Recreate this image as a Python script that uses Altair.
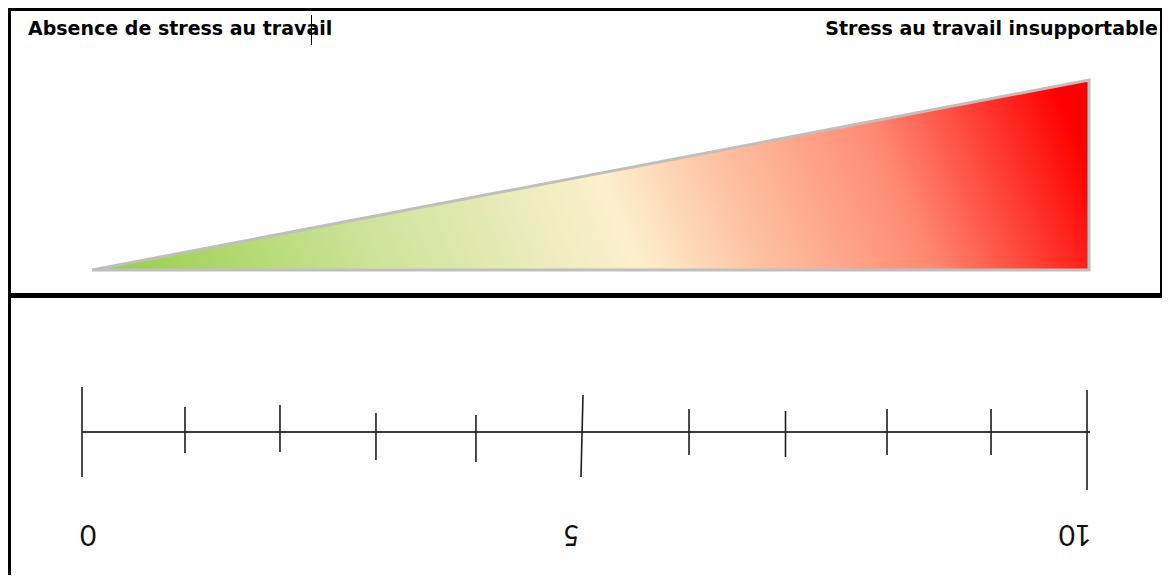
import altair as alt
import pandas as pd

# ---- data ----
# triangle (stress intensity rises from 0 to 10)
tri_x = [0, 10]
tri_y = [0, 10]

# gradient colour stops (offset, colour)
grad_offsets = [0.0, 0.25, 0.51, 0.62, 0.80, 1.0]
grad_colors = ["#9ccf4e", "#cde39a", "#fdf0cf", "#fdc6a6", "#ff8a74", "#ff0000"]

# top labels
label_left = "Absence de stress au travail"
label_right = "Stress au travail insupportable"

# scale (hand drawn): tick positions and extents (above / below the line)
tick_pos_top = [0, 1.025, 1.97, 2.925, 3.92, 4.985, 6.04, 7.0, 8.01, 9.045, 10.0]
tick_pos_bot = [0, 1.025, 1.97, 2.925, 3.92, 4.965, 6.04, 7.0, 8.01, 9.045, 10.0]
tick_up = [45, 25, 27, 19, 17, 37, 23, 21, 23, 23, 42]
tick_down = [-45, -21, -20, -28, -30, -45, -23, -25, -23, -23, -58]

line_start = [0]
line_end = [10.03]

num_labels = ["0", "5", "10"]
num_pos = [0.06, 4.87, 9.88]
num_y = [-101, -101, -101]

# ---- frames ----
tri_df = pd.DataFrame({"x": tri_x, "y": tri_y})
ticks_df = pd.DataFrame({"xt": tick_pos_top, "xb": tick_pos_bot, "up": tick_up, "down": tick_down})
line_df = pd.DataFrame({"x": line_start, "x2": line_end, "yy": [0]})
nums_df = pd.DataFrame({"t": num_labels, "x": num_pos, "y": num_y})
one = pd.DataFrame({"a": [0]})

W = 1151
H = 564
H1 = 287  # height of the framed top box


def lin_domain(p0, p1, v0, v1, length, flip=False):
    """domain so that value v0 sits at pixel p0 and v1 at pixel p1 on a range of `length`."""
    k = (p1 - p0) / (v1 - v0)
    if flip:  # y axis: pixel grows downward
        return [v0 + (length - p0) / k, v0 + (0 - p0) / k]
    return [v0 + (0 - p0) / k, v0 + (length - p0) / k]


xs_top = alt.Scale(domain=lin_domain(81, 1078, 0, 10, W), nice=False, zero=False)
ys_top = alt.Scale(domain=sorted(lin_domain(259, 69, 0, 10, H, flip=True)), nice=False, zero=False)
xs_bot = alt.Scale(domain=lin_domain(71, 1076, 0, 10, W), nice=False, zero=False)
ys_bot = alt.Scale(domain=sorted(lin_domain(421, 321, 0, 100, H, flip=True)), nice=False, zero=False)

gradient = alt.LinearGradient(
    gradient="linear",
    stops=[alt.GradientStop(color=c, offset=o) for o, c in zip(grad_offsets, grad_colors)],
    x1=0, x2=1, y1=0.54, y2=0.46,
)

triangle = alt.Chart(tri_df).mark_area(
    fill=gradient, stroke="#bfbfbf", strokeWidth=3, strokeJoin="miter"
).encode(
    x=alt.X("x:Q", scale=xs_top, axis=None),
    y=alt.Y("y:Q", scale=ys_top, axis=None),
    y2=alt.datum(0),
)

txt_left = alt.Chart(one).mark_text(
    text=label_left, font="DejaVu Sans", fontWeight="bold", fontSize=19,
    align="left", baseline="middle", color="#000000"
).encode(x=alt.value(17), y=alt.value(18))

txt_right = alt.Chart(one).mark_text(
    text=label_right, font="DejaVu Sans", fontWeight="bold", fontSize=19,
    align="right", baseline="middle", color="#000000"
).encode(x=alt.value(W - 4), y=alt.value(18))

cursor = alt.Chart(one).mark_rule(color="#000000", strokeWidth=1).encode(
    x=alt.value(300.5), y=alt.value(4), y2=alt.value(34)
)

b_top = alt.Chart(one).mark_rule(color="#000000", strokeWidth=3).encode(
    x=alt.value(-3), x2=alt.value(W), y=alt.value(-1.5)
)
b_left = alt.Chart(one).mark_rule(color="#000000", strokeWidth=3).encode(
    x=alt.value(-1.5), y=alt.value(-3), y2=alt.value(H)
)
b_right = alt.Chart(one).mark_rule(color="#000000", strokeWidth=2).encode(
    x=alt.value(W - 1), y=alt.value(-3), y2=alt.value(H1)
)
b_bottom = alt.Chart(one).mark_rule(color="#000000", strokeWidth=5).encode(
    x=alt.value(-3), x2=alt.value(W), y=alt.value(H1 - 2.5)
)

hline = alt.Chart(line_df).mark_rule(color="#3c3c3c", strokeWidth=2).encode(
    x=alt.X("x:Q", scale=xs_bot, axis=None),
    x2="x2:Q",
    y=alt.Y("yy:Q", scale=ys_bot, axis=None),
)

ticks = alt.Chart(ticks_df).mark_rule(color="#1e1e1e", strokeWidth=1.6).encode(
    x=alt.X("xt:Q", scale=xs_bot, axis=None),
    x2="xb:Q",
    y=alt.Y("up:Q", scale=ys_bot, axis=None),
    y2="down:Q",
)

nums = alt.Chart(nums_df).mark_text(
    font="Lato", fontSize=28, angle=180, align="center", baseline="middle", color="#111111"
).encode(
    x=alt.X("x:Q", scale=xs_bot, axis=None),
    y=alt.Y("y:Q", scale=ys_bot, axis=None),
    text="t:N",
)

chart = alt.layer(
    triangle, hline, ticks, nums, b_top, b_left, b_right, b_bottom, txt_left, txt_right, cursor
).resolve_scale(x="independent", y="independent").properties(
    width=W, height=H,
    padding={"left": 3, "top": 3, "right": 0, "bottom": 0},
    autosize=alt.AutoSizeParams(type="none"),
).configure_view(stroke=None)

chart.save("out.html", embed_options={"renderer": "svg", "actions": False})
